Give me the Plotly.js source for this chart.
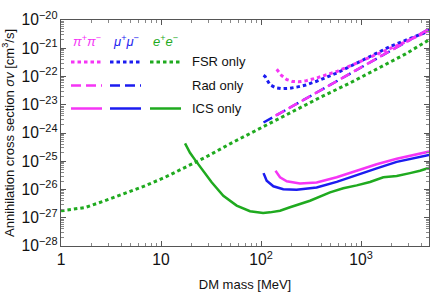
<!DOCTYPE html>
<html><head><meta charset="utf-8">
<script src="https://cdn.plot.ly/plotly-3.0.1.min.js"></script>
<style>html,body{margin:0;padding:0;background:#fff;}#chart{width:436px;height:294px;}</style>
</head><body><div id="chart"></div>
<script>
// ---- data (DM mass in MeV, sigma v in cm^3/s) ----
const fsrEE_m   = [1, 1.74, 2.75, 4.37, 6.92, 10.96, 17.4, 27.5, 50, 97.7, 200, 400, 776, 1500, 2800, 4800];
const fsrEE_s   = [1.75e-27, 2.3e-27, 4.0e-27, 7.4e-27, 1.35e-26, 2.7e-26, 6.0e-26, 1.35e-25, 4.3e-25, 1.45e-24, 5.4e-24, 1.9e-23, 5.9e-23, 2.0e-22, 6.3e-22, 2.0e-21];

const fsrMu_m   = [106, 110, 123, 140, 161, 190, 227, 280, 360, 571, 977, 1950, 4800];
const fsrMu_s   = [1.1e-22, 1.0e-22, 5.1e-23, 4.0e-23, 3.7e-23, 3.8e-23, 4.2e-23, 5.0e-23, 6.8e-23, 1.32e-22, 3.4e-22, 1.15e-21, 4.1e-21];

const fsrPi_m   = [143.5, 160, 181, 205, 236, 280, 360, 571, 906, 1672, 2864, 4800];
const fsrPi_s   = [1.8e-22, 1.1e-22, 7.8e-23, 6.7e-23, 6.5e-23, 7.0e-23, 8.9e-23, 1.5e-22, 3.0e-22, 7.6e-22, 1.75e-21, 4.3e-21];

const radMu_m   = [106, 200, 500, 1000, 2000, 4800];
const radMu_s   = [2.35e-24, 8.3e-24, 5.2e-23, 2.1e-22, 8.3e-22, 4.8e-21];
const radPi_m   = [139.6, 200, 500, 1000, 2000, 4800];
const radPi_s   = [4.1e-24, 8.3e-24, 5.2e-23, 2.1e-22, 8.3e-22, 4.8e-21];

const icsEE_m   = [17.4, 19.5, 21.9, 26.5, 32.1, 42, 57.1, 77.6, 105, 123, 155, 195, 309, 490, 665, 906, 1230, 1672, 2275, 3090, 3890, 4900];
const icsEE_s   = [4.3e-25, 2.0e-25, 1.12e-25, 4.6e-26, 1.8e-26, 6.0e-27, 2.7e-27, 1.7e-27, 1.48e-27, 1.55e-27, 1.78e-27, 2.35e-27, 4.0e-27, 7.9e-27, 1.1e-26, 1.4e-26, 1.85e-26, 2.7e-26, 3.0e-26, 3.8e-26, 4.6e-26, 6.0e-26];

const icsMu_m   = [106, 114, 133, 167, 227, 360, 571, 906, 1435, 2275, 3606, 4800];
const icsMu_s   = [3.8e-26, 2.05e-26, 1.3e-26, 1.02e-26, 9.8e-27, 1.17e-26, 1.86e-26, 3.3e-26, 5.6e-26, 9.5e-26, 1.35e-25, 1.66e-25];

const icsPi_m   = [139.6, 155, 181, 245, 360, 571, 906, 1435, 2275, 3606, 4800];
const icsPi_s   = [4.6e-26, 2.7e-26, 1.95e-26, 1.62e-26, 1.78e-26, 2.7e-26, 4.6e-26, 7.8e-26, 1.23e-25, 1.78e-25, 2.2e-25];

const chanLabels = ['<i>π</i><sup>+</sup><i>π</i><sup>−</sup>', '<i>μ</i><sup>+</sup><i>μ</i><sup>−</sup>', '<i>e</i><sup>+</sup><i>e</i><sup>−</sup>'];
const rowLabels  = ['FSR only', 'Rad only', 'ICS only'];

// ---- styles ----
const MAG = '#f535f5', BLU = '#1c1cf0', GRN = '#1faa1f';
const DOT = '3.5px,3px', DASH = '10px,5px';

function tr(x, y, color, dash, w){
  return {x:x, y:y, type:'scatter', mode:'lines', line:{color:color, width:w, dash:dash}, hoverinfo:'skip', showlegend:false};
}
const data = [
  tr(fsrEE_m, fsrEE_s, GRN, DOT, 3),
  tr(icsEE_m, icsEE_s, GRN, 'solid', 2.5),
  tr(fsrMu_m, fsrMu_s, BLU, DOT, 3),
  tr(radMu_m, radMu_s, BLU, DASH, 2.5),
  tr(icsMu_m, icsMu_s, BLU, 'solid', 2.5),
  tr(fsrPi_m, fsrPi_s, MAG, DOT, 3),
  tr(radPi_m, radPi_s, MAG, DASH, 2.5),
  tr(icsPi_m, icsPi_s, MAG, 'solid', 2.5)
];

// legend drawn with paper-referenced shapes
const L = 61, T = 20, W = 368, H = 226;
const px = v => (v - L) / W, py = v => (T + H - v) / H;
const cols = [[71,102,MAG],[110,141,BLU],[150,181,GRN]];
const rows = [[62,DOT,3],[85.5,DASH,2.5],[108.5,'solid',2.5]];
const shapes = [], annotations = [];
rows.forEach((r, ri) => {
  cols.forEach((c, ci) => {
    if (ri === 1 && ci === 2) return;
    shapes.push({type:'line', xref:'paper', yref:'paper', x0:px(c[0]), x1:px(c[1]), y0:py(r[0]), y1:py(r[0]),
      line:{color:c[2], width:r[2], dash:r[1]}});
  });
  annotations.push({xref:'paper', yref:'paper', x:px(190), y:py(r[0]), xanchor:'left', yanchor:'middle',
    text:rowLabels[ri], showarrow:false, font:{size:13, color:'#111', family:'Liberation Sans, Arial, sans-serif'}});
});
cols.forEach((c, ci) => {
  annotations.push({xref:'paper', yref:'paper', x:px((c[0]+c[1])/2), y:py(41), xanchor:'center', yanchor:'middle',
    text:chanLabels[ci], showarrow:false, font:{size:13, color:c[2], family:'Liberation Sans, Arial, sans-serif'}});
});

const axBase = {
  type:'log', dtick:1, exponentformat:'power', showgrid:false, zeroline:false,
  showline:true, linecolor:'#555', linewidth:1, mirror:'allticks',
  ticks:'inside', ticklen:5, tickcolor:'#555', tickwidth:1,
  tickfont:{size:12.5, color:'#111', family:'Liberation Sans, Arial, sans-serif'},
  minor:{ticks:'inside', ticklen:3, tickcolor:'#888', dtick:'D1', showgrid:false}
};
const layout = {
  width:436, height:294,
  margin:{l:L, r:436-L-W, t:T, b:294-T-H},
  paper_bgcolor:'#fff', plot_bgcolor:'#fff',
  font:{family:'Liberation Sans, Arial, sans-serif', color:'#111'},
  xaxis:Object.assign({}, axBase, {range:[0, 3.68],
    title:{text:'DM mass [MeV]', font:{size:13, color:'#111'}, standoff:12}}),
  yaxis:Object.assign({}, axBase, {range:[-28, -20],
    title:{text:'Annihilation cross section <i>σv</i> [cm<sup>3</sup>/s]', font:{size:13, color:'#111'}, standoff:4}}),
  shapes:shapes, annotations:annotations, showlegend:false
};
Plotly.newPlot('chart', data, layout, {displayModeBar:false, staticPlot:true});
</script></body></html>
